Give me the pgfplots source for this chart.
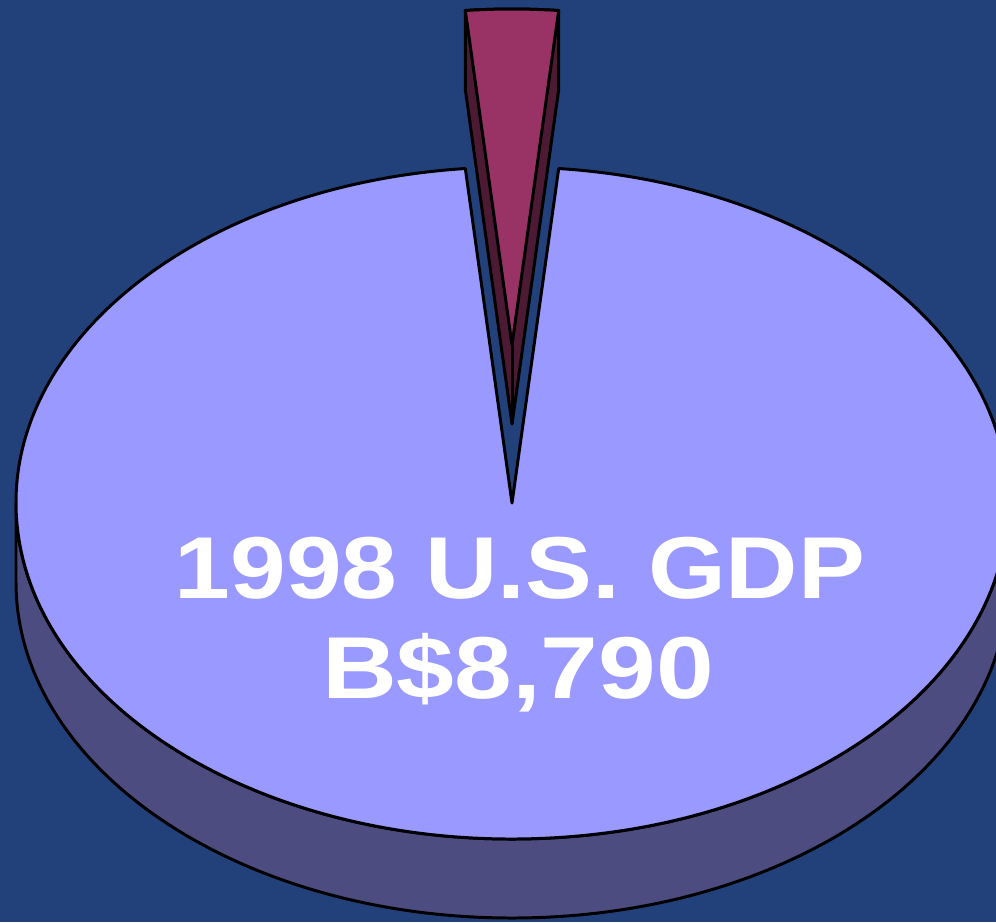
\documentclass[border=0pt]{standalone}
\usepackage{pgfplots}
\pgfplotsset{compat=1.18}
\usepackage{pgfplotstable}
\usepackage{fontspec}
\setmainfont{Liberation Sans}

\definecolor{bg}{HTML}{22417A}
\definecolor{topc}{HTML}{9999FF}
\definecolor{sidec}{HTML}{4C4C80}
\definecolor{wtop}{HTML}{993366}
\definecolor{wside}{HTML}{4C1A33}

% slice values (billions of dollars)
\pgfplotstableread{
label value
GDP   8790
Other 272
}\piedata

\begin{document}%
\pgfplotstablegetelem{0}{value}\of\piedata\let\vbig\pgfplotsretval%
\pgfplotstablegetelem{1}{value}\of\piedata\let\vsmall\pgfplotsretval%
\pgfmathsetmacro\h{\vsmall/(\vbig+\vsmall)*180}%
\begin{tikzpicture}
\begin{axis}[
    width=9.96cm, height=9.22cm, scale only axis,
    xmin=0, xmax=996, ymin=0, ymax=922,
    hide axis,
]
\fill[bg] (axis cs:0,0) rectangle (axis cs:996,922);

% big slice: side then top
\draw[fill=sidec, line width=0.85pt]
    (axis cs:16,419) -- ++(0,-0.79cm)
    arc[start angle=180, end angle=360, x radius=4.96cm, y radius=3.36cm]
    -- ++(0,0.79cm)
    arc[start angle=0, end angle=-180, x radius=4.96cm, y radius=3.36cm] -- cycle;
\draw[fill=topc, line width=0.85pt, line join=round]
    (axis cs:512,419) -- ++({90+\h}:4.96cm and 3.36cm)
    arc[start angle=90+\h, end angle=450-\h, x radius=4.96cm, y radius=3.36cm] -- cycle;

% exploded small slice
\draw[fill=wside, line width=0.85pt, line join=round]
    (axis cs:512,577) ++({90+\h}:4.96cm and 3.36cm) -- ++(0,-0.79cm)
    -- (axis cs:512,498) -- ++({90-\h}:4.96cm and 3.36cm) -- ++(0,0.79cm)
    arc[start angle=90-\h, end angle=90+\h, x radius=4.96cm, y radius=3.36cm] -- cycle;
\draw[line width=0.85pt] (axis cs:512,577) -- (axis cs:512,498);
\draw[fill=wtop, line width=0.85pt, line join=round]
    (axis cs:512,577) -- ++({90-\h}:4.96cm and 3.36cm)
    arc[start angle=90-\h, end angle=90+\h, x radius=4.96cm, y radius=3.36cm] -- cycle;

\node[white, font=\bfseries\fontsize{25}{30}\selectfont, xscale=1.14, anchor=base]
    at (axis cs:520,324) {1998 U.S. GDP};
\node[white, font=\bfseries\fontsize{25}{30}\selectfont, xscale=1.18, anchor=base]
    at (axis cs:518,224) {B\$8,790};
\end{axis}
\pgfresetboundingbox
\path[use as bounding box] (current axis.south west) rectangle (current axis.north east);
\end{tikzpicture}%
\end{document}
